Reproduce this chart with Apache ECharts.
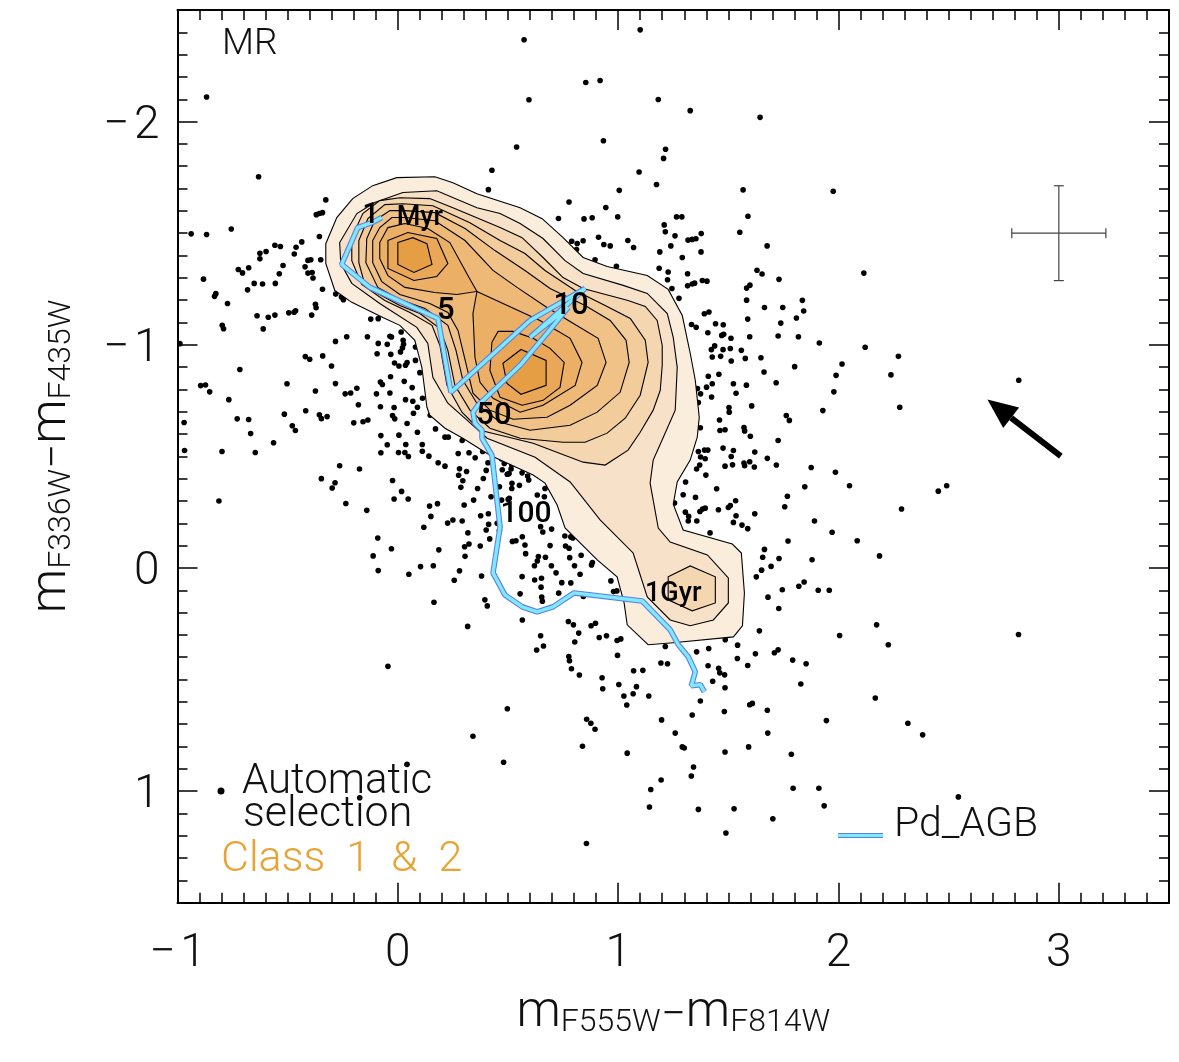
<!DOCTYPE html>
<html><head><meta charset="utf-8">
<style>html,body{margin:0;padding:0;background:#fff}#c{width:1179px;height:1062px}</style>
<script src="https://cdn.jsdelivr.net/npm/echarts@6/dist/echarts.min.js"></script>
</head><body><div id="c"></div>
<script>
const xTicks=[-1,0,1,2,3];
const yTicks=[-2,-1,0,1];
const starsTop=[[.573,-2.367],[1.1,-2.411],[.853,-2.175],[.918,-2.184],[.595,-2.098],[1.182,-2.099],[1.327,-2.049],[1.644,-2.019],[.539,-1.886],[.933,-1.914],[1.215,-1.876],[1.206,-1.835],[1.095,-1.774],[1.174,-1.718],[1.005,-1.692],[1.567,-1.694],[1.976,-1.688],[.777,-1.64],[.944,-1.615],[.729,-1.566],[.845,-1.564],[.882,-1.569],[.998,-1.573],[1.265,-1.573],[1.289,-1.573],[1.589,-1.576],[1.209,-1.537],[1.214,-1.506],[1.552,-1.504],[1.377,-1.498],[1.258,-1.488],[1.317,-1.469],[1.336,-1.472],[1.353,-1.475],[.789,-1.464],[.814,-1.454],[.841,-1.466],[.911,-1.482],[.935,-1.449],[.964,-1.443],[1.044,-1.467],[1.07,-1.436],[1.239,-1.443],[1.676,-1.443],[.811,-1.427],[1.189,-1.416],[1.376,-1.416],[1.291,-1.391],[.895,-1.381],[.992,-1.352],[1.186,-1.343],[1.227,-1.326],[1.63,-1.334],[1.653,-1.317],[1.315,-1.318],[1.224,-1.291],[1.382,-1.288],[1.403,-1.285],[1.73,-1.293],[1.347,-1.276],[1.336,-1.272],[1.315,-1.264],[1.244,-1.252],[1.598,-1.267],[1.583,-1.254],[.732,-1.209],[1.276,-1.208],[1.583,-1.2],[1.836,-1.199]];
const starsRight=[[2.115,-1.321],[1.664,-1.167],[1.747,-1.167],[1.842,-1.151],[1.391,-1.139],[1.412,-1.147],[1.809,-1.12],[1.588,-1.115],[1.738,-1.097],[1.333,-1.091],[1.354,-1.078],[1.442,-1.094],[1.477,-1.09],[1.407,-1.054],[1.47,-1.042],[1.479,-1.047],[1.512,-1.029],[1.597,-1.036],[1.726,-1.039],[1.818,-1.036],[1.913,-1.008],[1.438,-.995],[1.423,-.978],[1.476,-.978],[1.509,-.983],[1.559,-.975],[2.121,-.989],[2.272,-.948],[1.427,-.945],[1.465,-.948],[1.513,-.927],[1.577,-.939],[1.648,-.942],[2.016,-.914],[1.801,-.902],[1.662,-.878],[1.457,-.868],[1.409,-.859],[1.989,-.863],[2.238,-.865],[1.427,-.825],[1.523,-.825],[1.582,-.819],[1.717,-.83],[1.401,-.81],[1.36,-.804],[1.374,-.78],[1.535,-.783],[1.979,-.789],[1.424,-.766],[1.364,-.741],[1.606,-.726],[1.503,-.719],[1.504,-.698],[1.929,-.705],[2.278,-.72],[1.763,-.683],[1.777,-.661],[1.46,-.663],[1.373,-.628],[1.462,-.616],[1.485,-.619],[1.571,-.629],[1.574,-.614],[1.6,-.59],[1.726,-.571],[1.364,-.522],[1.392,-.528],[1.407,-.528],[1.476,-.537],[1.523,-.526],[1.62,-.519],[1.374,-.497],[1.395,-.489],[1.513,-.499],[1.677,-.491],[1.571,-.47],[1.574,-.458],[1.597,-.476],[1.485,-.456],[1.519,-.462],[1.618,-.452],[1.718,-.461],[1.37,-.461],[1.356,-.443],[1.876,-.45],[1.986,-.429],[1.398,-.416],[1.306,-.385],[2.05,-.368],[1.847,-.364],[1.447,-.355],[2.453,-.344],[2.491,-.368],[1.295,-.328],[1.351,-.316],[1.768,-.321],[1.533,-.301],[1.756,-.274],[1.509,-.28],[1.5,-.271],[1.455,-.261],[1.395,-.268],[1.383,-.264],[1.371,-.253],[1.305,-.25],[1.32,-.231],[2.286,-.264],[1.62,-.243],[1.535,-.234],[1.256,-.291],[2.818,-.841]];
const starsLowerRight=[[1.318,-.21],[1.357,-.21],[1.523,-.204],[1.562,-.192],[1.588,-.176],[1.891,-.21],[1.971,-.16],[2.085,-.122],[1.771,-.121],[1.417,-.157],[1.664,-.083],[1.656,-.048],[1.73,-.042],[1.88,-.037],[2.186,-.054],[1.694,-.007],[1.651,.01],[1.627,.04],[1.844,.063],[1.82,.082],[1.745,.098],[1.908,.1],[1.958,.1],[1.68,.131],[1.729,.182],[1.641,.282],[2.173,.255],[2.005,.303],[2.817,.298],[2.226,.344],[1.486,.322],[1.542,.346],[1.726,.367],[1.709,.38],[1.411,.361],[1.356,.376],[1.623,.385],[1.541,.406],[1.792,.413],[1.853,.429],[1.588,.437],[1.408,.438],[1.456,.45],[1.461,.47],[1.483,.479],[1.224,.429],[1.194,.426],[1.829,.52],[1.429,.508],[1.485,.537],[1.373,.596],[2.167,.583],[1.609,.607],[1.597,.613],[1.677,.638],[1.482,.643],[1.336,.659],[1.945,.684],[2.315,.696],[1.197,.681],[2.382,.748],[1.259,.74],[1.679,.74],[1.592,.802],[1.291,.802],[1.3,.807],[1.485,.825],[1.786,.835],[1.342,.892],[1.332,.932],[1.195,.95],[1.794,.987],[1.911,.987],[2.544,1.026],[1.935,1.066],[1.364,1.082],[1.526,1.079],[1.702,1.124],[1.489,1.188],[1.214,.352]];
const starsMiddle=[[.517,-.461],[.514,-.443],[.505,-.423],[.497,-.42],[.564,-.426],[.589,-.412],[.594,-.394],[.668,-.356],[.518,-.379],[.517,-.356],[.552,-.37],[.633,-.327],[.665,-.319],[.506,-.312],[.648,-.185],[.698,-.174],[.658,-.161],[.758,-.143],[.785,-.139],[.794,-.134],[.52,-.119],[.536,-.122],[.565,-.14],[.577,-.103],[.691,-.1],[.761,-.098],[.777,-.088],[.58,-.064],[.832,-.057],[.67,-.048],[.638,-.051],[.633,-.031],[.78,-.046],[.62,-.01],[.697,-.01],[.802,-.01],[.883,-.024],[.879,-.013],[.718,.022],[.827,.028],[.564,.039],[.652,.046],[.621,.054],[.65,.086],[.744,.066],[.785,.067],[.967,.058],[.555,.116],[.73,.113],[.653,.131],[.656,.149],[.842,.128],[.979,.106],[.994,.103]];
const starsUpperLeft=[[-.868,-2.11],[-.632,-1.753],[.427,-1.782],[.411,-1.695],[-.327,-1.649],[-.37,-1.583],[-.356,-1.588],[-.342,-1.592],[-.938,-1.497],[-.868,-1.494],[-.756,-1.519],[-.356,-1.485],[-.436,-1.461],[-.462,-1.437],[-.558,-1.446],[-.533,-1.44],[-.47,-1.407],[-.598,-1.418],[-.626,-1.41],[-.626,-1.385],[-.35,-1.381],[-.408,-1.378],[-.395,-1.381],[-.724,-1.337],[-.677,-1.345],[-.705,-1.322],[-.521,-1.355],[-.421,-1.349],[-.408,-1.321],[-.389,-1.324],[-.385,-1.299],[-.538,-1.318],[-.882,-1.294],[-.652,-1.275],[-.614,-1.272],[-.556,-1.275],[-.682,-1.246],[-.342,-1.249],[-.826,-1.229],[-.832,-1.217],[-.282,-1.227],[-.256,-1.214],[-.247,-1.202],[-.773,-1.185],[-.374,-1.181],[-.371,-1.166],[-.495,-1.143],[-.471,-1.146],[-.464,-1.152],[-.558,-1.133],[-.588,-1.123],[-.639,-1.13],[-.391,-1.133],[-.123,-1.115],[-.089,-1.117],[-.797,-1.087],[-.791,-1.072],[-.611,-1.071]];
const starsLowerLeft=[[-.989,-1.005],[-.283,-1.015],[-.232,-1.036],[-.138,-1.036],[-.089,-1.006],[-.048,-1.002],[-.036,-1.038],[-.029,-1.035],[.015,-1.057],[.024,-1.02],[.026,-1.002],[.021,-.986],[.012,-.968],[.08,-.99],[-.094,-.96],[-.032,-.957],[-.42,-.947],[-.4,-.935],[-.341,-.95],[.08,-.93],[-.015,-.918],[.005,-.905],[.042,-.92],[.035,-.908],[-.301,-.905],[-.717,-.889],[.1,-.875],[-.033,-.857],[-.895,-.817],[-.873,-.82],[-.854,-.789],[-.503,-.825],[-.283,-.826],[-.079,-.833],[-.07,-.822],[.029,-.836],[.065,-.808],[-.186,-.805],[-.374,-.793],[-.239,-.78],[-.214,-.784],[-.097,-.78],[-.036,-.784],[-.767,-.754],[.035,-.754],[.068,-.747],[.112,-.76],[-.179,-.731],[-.079,-.722],[-.017,-.719],[.089,-.72],[-.515,-.689],[-.418,-.704],[-.356,-.686],[-.347,-.669],[-.321,-.678],[-.024,-.683],[-.014,-.668],[.071,-.693],[.147,-.684],[-.729,-.668],[-.677,-.665],[-.97,-.652],[-.2,-.65],[-.158,-.655],[-.136,-.663],[.042,-.647],[-.479,-.637],[-.465,-.616],[-.668,-.602],[.089,-.608],[.171,-.623],[-.077,-.593],[.005,-.595],[.214,-.586],[.229,-.586],[-.564,-.561],[-.048,-.552],[.036,-.553],[.111,-.553],[.292,-.571],[-.968,-.526],[-.798,-.522],[-.647,-.517],[-.077,-.516],[.003,-.517],[.032,-.517],[.048,-.499],[.111,-.523],[.141,-.501],[.274,-.513],[.323,-.516],[.351,-.494],[.385,-.522],[.183,-.471],[.214,-.456],[.409,-.471],[.471,-.488],[.483,-.468],[-.264,-.458],[-.174,-.443],[.28,-.444],[.312,-.432],[.401,-.437],[.276,-.415],[.474,-.44],[.498,-.42],[-.347,-.4],[-.024,-.392],[.295,-.391],[.388,-.401],[-.285,-.382],[-.298,-.358],[.286,-.361],[.362,-.356],[.461,-.364],[.017,-.343],[-.017,-.309],[.047,-.309],[-.812,-.3],[-.236,-.289],[.144,-.277],[.18,-.288],[.301,-.282],[.344,-.304],[.423,-.319],[.471,-.304],[.501,-.307],[-.141,-.258],[.15,-.231],[.376,-.234],[.411,-.243],[.25,-.215],[.292,-.21],[.226,-.201],[.118,-.182],[.412,-.195],[.451,-.2],[.401,-.17],[.461,-.168],[.318,-.157],[.417,-.13],[-.091,-.134],[-.029,-.086],[.186,-.081],[.323,-.107],[.303,-.095],[.374,-.098],[-.112,-.054],[.305,-.052],[.103,-.006],[.161,-.01],[-.089,.012],[.05,.028],[.28,.013],[.38,.036],[.256,.055],[.164,.154],[.395,.143],[.406,.17]];
const starsBottom=[[.317,.262],[.565,.233],[.774,.24],[.797,.255],[.877,.259],[.897,.248],[.821,.292],[.648,.304],[.914,.312],[.947,.304],[.995,.325],[1.012,.318],[.803,.332],[.661,.35],[.63,.368],[.997,.392],[.776,.397],[.779,.416],[.788,.452],[.824,.48],[1.07,.461],[1.112,.459],[.927,.492],[1.003,.522],[.93,.541],[1.083,.532],[1.068,.564],[1.026,.574],[1.139,.574],[1.039,.614],[-.045,.441],[.497,.631],[.857,.678],[.876,.696],[.895,.723],[.341,.754],[.838,.799],[1.041,.83],[.48,.871],[.042,.88],[1.148,.993],[-.173,1.03],[1.142,1.071],[.856,1.235]];

const level1=[[-.005,-1.749],[.168,-1.753],[.25,-1.726],[.359,-1.677],[.555,-1.614],[.655,-1.565],[.75,-1.48],[.841,-1.391],[.95,-1.351],[1.132,-1.31],[1.227,-1.248],[1.291,-1.131],[1.327,-.962],[1.35,-.841],[1.368,-.675],[1.359,-.586],[1.327,-.483],[1.268,-.385],[1.25,-.286],[1.295,-.17],[1.518,-.107],[1.559,-.067],[1.573,.112],[1.564,.259],[1.523,.309],[1.25,.335],[1.136,.344],[1.041,.255],[1.027,.157],[.995,.04],[.905,-.036],[.759,-.179],[.723,-.282],[.668,-.38],[.614,-.416],[.418,-.505],[.295,-.581],[.214,-.626],[.145,-.684],[.132,-.72],[.109,-.899],[.077,-1.02],[.009,-1.087],[-.068,-1.122],[-.209,-1.19],[-.286,-1.243],[-.327,-1.364],[-.327,-1.453],[-.277,-1.57],[-.205,-1.655],[-.114,-1.713]];
const level2=[[.023,-1.682],[.177,-1.69],[.359,-1.614],[.464,-1.588],[.555,-1.543],[.659,-1.476],[.759,-1.377],[.841,-1.319],[1.023,-1.266],[1.132,-1.23],[1.223,-1.14],[1.25,-1.033],[1.268,-.899],[1.259,-.707],[1.205,-.586],[1.159,-.483],[1.145,-.38],[1.182,-.179],[1.236,-.116],[1.405,-.058],[1.5,.045],[1.5,.157],[1.432,.233],[1.327,.259],[1.236,.233],[1.132,.13],[1.068,-.067],[.918,-.215],[.782,-.385],[.623,-.496],[.405,-.581],[.314,-.662],[.227,-.738],[.159,-.854],[.136,-1.006],[.086,-1.078],[-.082,-1.185],[-.209,-1.275],[-.259,-1.364],[-.264,-1.458],[-.186,-1.588],[-.105,-1.637]];
const level3=[[-.209,-1.377],[-.209,-1.48],[-.159,-1.588],[-.082,-1.646],[.009,-1.659],[.145,-1.655],[.25,-1.614],[.464,-1.525],[.564,-1.48],[.659,-1.391],[.75,-1.301],[.841,-1.252],[1.045,-1.198],[1.123,-1.172],[1.177,-1.109],[1.2,-.997],[1.2,-.908],[1.191,-.796],[1.159,-.707],[1.1,-.608],[1.045,-.528],[.941,-.461],[.841,-.474],[.614,-.559],[.373,-.617],[.291,-.698],[.223,-.818],[.191,-.997],[.155,-1.087],[.055,-1.145],[-.059,-1.198],[-.164,-1.27]];
const level3Old=[[1.227,.04],[1.327,-.009],[1.441,.04],[1.441,.157],[1.336,.192],[1.227,.143]];
const level4=[[-.177,-1.368],[-.177,-1.467],[-.136,-1.565],[-.059,-1.628],[.023,-1.632],[.159,-1.623],[.327,-1.547],[.464,-1.467],[.577,-1.409],[.668,-1.333],[.805,-1.243],[.941,-1.176],[1.055,-1.118],[1.123,-1.02],[1.136,-.921],[1.1,-.774],[1.032,-.671],[.95,-.604],[.85,-.563],[.75,-.563],[.555,-.581],[.418,-.626],[.327,-.707],[.259,-.818],[.227,-.975],[.191,-1.073],[.1,-1.14],[.009,-1.176],[-.091,-1.23],[-.155,-1.288]];
const level5=[[-.145,-1.368],[-.141,-1.476],[-.105,-1.556],[-.036,-1.601],[.032,-1.601],[.168,-1.592],[.305,-1.521],[.441,-1.422],[.577,-1.333],[.691,-1.252],[.85,-1.176],[.964,-1.109],[1.036,-1.02],[1.05,-.921],[1.009,-.787],[.905,-.698],[.782,-.639],[.6,-.617],[.464,-.653],[.364,-.729],[.295,-.841],[.264,-.975],[.227,-1.087],[.123,-1.163],[.009,-1.203],[-.091,-1.257]];
const level6=[[-.114,-1.368],[-.114,-1.467],[-.082,-1.525],[-.027,-1.57],[.032,-1.57],[.168,-1.556],[.305,-1.467],[.432,-1.333],[.541,-1.257],[.677,-1.167],[.795,-1.096],[.909,-1.029],[.945,-.921],[.905,-.818],[.782,-.729],[.677,-.675],[.523,-.666],[.418,-.707],[.341,-.783],[.309,-.917],[.273,-1.064],[.227,-1.145],[.145,-1.185],[.009,-1.225],[-.073,-1.283]];
const level7Young=[[.359,-1.239],[.318,-1.31],[.236,-1.458],[.136,-1.521],[.032,-1.543],[-.045,-1.525],[-.082,-1.458],[-.082,-1.386],[-.045,-1.31],[.032,-1.257],[.168,-1.234],[.268,-1.225]];
const level7Mid=[[.359,-1.239],[.645,-1.109],[.782,-1.029],[.836,-.921],[.805,-.818],[.659,-.729],[.555,-.698],[.432,-.76],[.373,-.832],[.35,-.944],[.341,-1.14]];
const level8Young=[[-.045,-1.467],[.045,-1.503],[.177,-1.476],[.227,-1.364],[.177,-1.306],[.073,-1.288],[-.045,-1.342]];
const level8Mid=[[.455,-1.06],[.523,-1.06],[.614,-1.029],[.691,-.984],[.755,-.921],[.736,-.809],[.659,-.751],[.564,-.729],[.464,-.765],[.418,-.885],[.427,-1.011]];
const level9Young=[[0,-1.458],[.068,-1.48],[.132,-1.453],[.155,-1.36],[.073,-1.324],[0,-1.36]];
const level9Mid=[[.477,-.917],[.559,-.979],[.673,-.93],[.673,-.818],[.559,-.778],[.495,-.827]];
const contourSets=[[0,level1],[1,level2],[2,level3],[2,level3Old],[3,level4],[4,level5],[5,level6],[6,level7Young],[6,level7Mid],[7,level8Young],[7,level8Mid],[8,level9Young],[8,level9Mid]];
const levelColors=['#FAEDDC','#F7E1C8','#F4D6B0','#F2CC9B','#F0C287','#EEB876','#EBAF66','#E9A757','#E69E45'];

const track=[[-.073,-1.57],[-.118,-1.547],[-.182,-1.525],[-.19,-1.525],[-.255,-1.36],[-.127,-1.257],[.182,-1.118],[.241,-.787],[.6,-1.109],[.85,-1.252],[.6,-1.033],[.773,-1.167],[.677,-1.051],[.555,-.908],[.364,-.729],[.341,-.698],[.35,-.648],[.382,-.617],[.382,-.581],[.427,-.505],[.464,-.183],[.432,.022],[.486,.121],[.564,.174],[.632,.197],[.705,.174],[.8,.112],[1.109,.148],[1.236,.277],[1.273,.344],[1.318,.398],[1.35,.465],[1.332,.528],[1.373,.523],[1.391,.555]];
const ageLabels=[[-.123,-1.579,'1',30],[.1,-1.565,'Myr',27],[.218,-1.149,'5',31],[.786,-1.172,'10',31],[.436,-.68,'50',31],[.582,-.241,'100',30],[1.25,.116,'1Gyr',27]];
const errorBar=[3.0,-1.5,.2135,.2125];
const reddening=[3.009,-.501,2.682,-.751];

const F='Roboto';
const fmt=v=>v<0?'\u2212\u200A'+Math.abs(v):String(v);
function major(pos,ticks,extra){
  return Object.assign({type:'value',position:pos,axisLine:{onZero:false,show:true,lineStyle:{color:'#000',width:2}},
    splitLine:{show:false},minorTick:{show:false},
    axisTick:{show:true,inside:true,length:20,customValues:ticks,lineStyle:{color:'#000',width:1.5}},
    axisLabel:{show:false}},extra);
}
function minor(pos,extra){
  return Object.assign({type:'value',position:pos,interval:.1,axisLine:{onZero:false,show:false},splitLine:{show:false},
    axisTick:{show:true,inside:true,length:10,lineStyle:{color:'#000',width:1.5}},axisLabel:{show:false}},extra);
}
const xr={min:-1,max:3.5}, yr={min:-2.5,max:1.5,inverse:true};
const labelX={show:true,customValues:xTicks,formatter:fmt,fontFamily:F,fontWeight:300,fontSize:46,color:'#111',margin:29};
const labelY={show:true,customValues:yTicks,formatter:v=>'{t|'+fmt(v)+'}',fontFamily:F,fontWeight:300,fontSize:46,color:'#111',margin:18,
  rich:{t:{fontFamily:F,fontWeight:300,fontSize:46,color:'#111',padding:[9,0,0,0]}}};
const richName={m:{fontFamily:F,fontWeight:300,fontSize:50,color:'#111',verticalAlign:'bottom'},
  s:{fontFamily:F,fontWeight:300,fontSize:32,color:'#111',verticalAlign:'bottom'},
  d:{fontFamily:F,fontWeight:300,fontSize:44,color:'#111',verticalAlign:'bottom'}};

const option={
  animation:false,backgroundColor:'#fff',
  grid:{left:177.5,top:10,width:991.5,height:892.7,containLabel:false},
  xAxis:[
    major('bottom',xTicks,Object.assign({},xr,{axisLabel:labelX,name:'{m|m}{s|F555W}{d|\u2212}{m|m}{s|F814W}',nameLocation:'middle',nameGap:86,nameTextStyle:{rich:richName}})),
    major('top',xTicks,xr),minor('bottom',xr),minor('top',xr)],
  yAxis:[
    major('left',yTicks,Object.assign({},yr,{axisLabel:labelY,name:'{m|m}{s|F336W}{d|\u2212}{m|m}{s|F435W}',nameLocation:'middle',nameRotate:90,nameGap:100,nameTextStyle:{rich:richName}})),
    major('right',yTicks,yr),minor('left',yr),minor('right',yr)],
  series:[
    {type:'scatter',name:'stars',data:[].concat(starsTop,starsRight,starsLowerRight,starsMiddle,starsUpperLeft,starsLowerLeft,starsBottom),
     symbol:'circle',symbolSize:5.6,itemStyle:{color:'#000',opacity:1},z:2,silent:true},
    {type:'custom',name:'density',coordinateSystem:'cartesian2d',data:contourSets.map((c,i)=>[i]),z:3,silent:true,clip:false,
     renderItem(p,api){const c=contourSets[api.value(0)];
       return {type:'polygon',shape:{points:c[1].map(q=>api.coord(q))},style:{fill:levelColors[c[0]],stroke:'#000',lineWidth:1.1,lineJoin:'miter'}};}},
    {type:'line',name:'Pd_AGB edge',data:track,showSymbol:false,smooth:false,lineStyle:{color:'#5B7FE6',width:5.6,join:'bevel'},z:4,silent:true},
    {type:'line',name:'Pd_AGB',data:track,showSymbol:false,smooth:false,lineStyle:{color:'#7FE9FF',width:3.4,join:'bevel'},z:5,silent:true},
    {type:'scatter',name:'ages',data:ageLabels.map(a=>({value:[a[0],a[1]],label:{fontSize:a[3]}})),symbolSize:0,itemStyle:{opacity:1},z:6,silent:true,
     label:{show:true,position:'inside',opacity:1,formatter:p=>ageLabels[p.dataIndex][2],fontFamily:F,fontWeight:500,color:'#000',textBorderWidth:0}},
    {type:'custom',name:'error',coordinateSystem:'cartesian2d',data:[errorBar],z:6,silent:true,
     renderItem(p,api){const[x,y,ex,ey]=errorBar;const st={stroke:'#444',lineWidth:1.2};
       const L=(a,b)=>({type:'line',shape:{x1:a[0],y1:a[1],x2:b[0],y2:b[1]},style:st});
       const l=api.coord([x-ex,y]),r=api.coord([x+ex,y]),t=api.coord([x,y-ey]),b=api.coord([x,y+ey]);
       return {type:'group',children:[L(l,r),L(t,b),L([l[0],l[1]-5],[l[0],l[1]+5]),L([r[0],r[1]-5],[r[0],r[1]+5]),L([t[0]-5,t[1]],[t[0]+5,t[1]]),L([b[0]-5,b[1]],[b[0]+5,b[1]])]};}},
    {type:'custom',name:'arrow',coordinateSystem:'cartesian2d',data:[reddening],z:6,silent:true,
     renderItem(p,api){const a=api.coord([reddening[0],reddening[1]]),b=api.coord([reddening[2]-.006,reddening[3]-.004]);
       const d=Math.hypot(b[0]-a[0],b[1]-a[1]),ux=(b[0]-a[0])/d,uy=(b[1]-a[1])/d,hl=30,hw=13;
       const c=[b[0]-ux*hl,b[1]-uy*hl];
       return {type:'group',children:[
         {type:'line',shape:{x1:a[0],y1:a[1],x2:c[0],y2:c[1]},style:{stroke:'#000',lineWidth:6}},
         {type:'polygon',shape:{points:[b,[c[0]-uy*hw,c[1]+ux*hw],[c[0]+uy*hw,c[1]-ux*hw]]},style:{fill:'#000'}}]};}}
  ],
  graphic:{elements:[
    {type:'text',x:222,y:26,z:20,style:{text:'MR',font:'300 37px Roboto',fill:'#111'}},
    {type:'text',x:242,y:761,z:20,style:{text:'Automatic',font:'300 42px Roboto',fill:'#111'}},
    {type:'text',x:243,y:794,z:20,style:{text:'selection',font:'300 43px Roboto',fill:'#111'}},
    {type:'text',x:221,y:839,z:20,style:{text:'Class  1  &  2',font:'300 43px Roboto',fill:'#E8A333'}},
    {type:'text',x:894,y:805,z:20,style:{text:'Pd_AGB',font:'300 41px Roboto',fill:'#111'}},
    {type:'circle',z:20,shape:{cx:221,cy:791,r:3.5},style:{fill:'#000'}},
    {type:'line',z:20,shape:{x1:838,y1:835.5,x2:883,y2:835.5},style:{stroke:'#5B7FE6',lineWidth:5}},
    {type:'line',z:21,shape:{x1:838,y1:835.5,x2:883,y2:835.5},style:{stroke:'#7FE9FF',lineWidth:2.8}}
  ]}
};
echarts.init(document.getElementById('c'),null,{renderer:'canvas'}).setOption(option);
</script></body></html>
